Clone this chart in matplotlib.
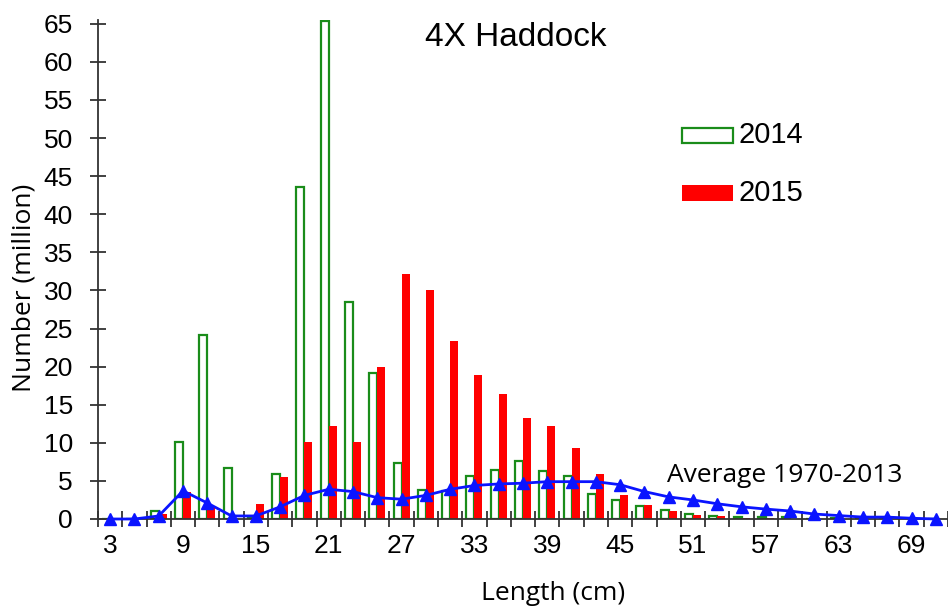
import matplotlib
matplotlib.use("Agg")
import matplotlib.pyplot as plt
from matplotlib.patches import Rectangle
import numpy as np

lengths = list(range(3, 72, 2))  # 3..71 cm
tick_labels = ["3", "9", "15", "21", "27", "33", "39", "45", "51", "57", "63", "69"]

y2014 = [0, 0, 1.0, 10.1, 24.1, 6.7, 0.1, 5.9, 43.6, 65.4, 28.5, 19.1, 7.4, 3.8, 3.7,
         5.7, 6.4, 7.6, 6.3, 5.7, 3.3, 2.5, 1.7, 1.15, 0.7, 0.35, 0.2, 0.2, 0.2, 0.0,
         0.1, 0.0, 0.0, 0.0, 0.0]
y2015 = [0, 0, 0.7, 3.6, 1.7, 0.0, 2.0, 5.5, 10.1, 12.2, 10.1, 20.0, 32.2, 30.1, 23.3,
         18.9, 16.4, 13.3, 12.2, 9.3, 5.9, 3.1, 1.9, 1.0, 0.5, 0.35, 0.1, 0.12, 0.05, 0.0,
         0.0, 0.0, 0.0, 0.0, 0.0]
avg = [0.0, 0.0, 0.4, 3.7, 2.1, 0.4, 0.4, 1.6, 3.1, 3.9, 3.6, 2.8, 2.6, 3.1, 3.9,
       4.4, 4.6, 4.7, 4.9, 4.9, 4.9, 4.5, 3.6, 2.9, 2.5, 2.0, 1.6, 1.3, 1.05, 0.65,
       0.45, 0.25, 0.25, 0.1, 0.0]

W, H = 948, 609
fig = plt.figure(figsize=(W / 100, H / 100), dpi=100)
ax_left, ax_right, ax_top, ax_bot = 98, 948, 20, 519
ax = fig.add_axes([ax_left / W, 1 - ax_bot / H, (ax_right - ax_left) / W, (ax_bot - ax_top) / H])

x = np.arange(len(lengths))
bw = 0.33
green = "#1a8c1a"
red = "#ff0000"
blue = "#0a14ff"

ax.bar(x - bw, y2014, width=bw, align="edge", facecolor="white", edgecolor=green,
       linewidth=1.6, zorder=2)
ax.bar(x, y2015, width=bw, align="edge", facecolor=red, edgecolor="none", zorder=2)
ax.plot(x, avg, color=blue, linewidth=2.0, marker="^", markersize=8,
        markerfacecolor=blue, markeredgecolor=blue, zorder=4, clip_on=False)

ax.set_xlim(-0.5, (948 - 110.5) / 24.5)
ax.set_ylim(0, 65.5)

for s in ["top", "right"]:
    ax.spines[s].set_visible(False)
for s in ["left", "bottom"]:
    ax.spines[s].set_color("#333333")
    ax.spines[s].set_linewidth(1.3)

tick_font = "Liberation Sans"
ax.set_yticks(np.arange(0, 66, 5))
ax.set_yticklabels([str(v) for v in range(0, 66, 5)], fontsize=19, family=tick_font)
ax.tick_params(axis="y", direction="inout", length=12, width=1.3, color="#333333", pad=12)

label_pos = [lengths.index(int(t)) for t in tick_labels]
ax.set_xticks(label_pos)
ax.set_xticklabels(tick_labels, fontsize=19, family=tick_font)
ax.tick_params(axis="x", which="major", length=0, pad=11)
ax.set_xticks(np.arange(-0.5, len(lengths), 1.0), minor=True)
ax.tick_params(axis="x", which="minor", direction="inout", length=12, width=1.3, color="#333333")

lab_font = "Open Sans"
fig.text(553 / W, 1 - 593 / H, "Length (cm)", fontsize=19, family=lab_font,
         ha="center", va="center")
fig.text(24 / W, 1 - 288 / H, "Number (million)", fontsize=19, family=lab_font,
         ha="center", va="center", rotation=90)

fig.text(516 / W, 1 - 37 / H, "4X Haddock", fontsize=24, family=tick_font,
         ha="center", va="center")
fig.text(785 / W, 1 - 475 / H, "Average 1970-2013", fontsize=19, family=lab_font,
         ha="center", va="center")

# legend
fig.patches.append(Rectangle((682 / W, 1 - 143 / H), 51 / W, 15 / H, transform=fig.transFigure,
                             facecolor="white", edgecolor=green, linewidth=1.6))
fig.patches.append(Rectangle((682 / W, 1 - 201 / H), 51 / W, 16 / H, transform=fig.transFigure,
                             facecolor=red, edgecolor="none"))
fig.text(738 / W, 1 - 135 / H, "2014", fontsize=21, family=tick_font, ha="left", va="center")
fig.text(738 / W, 1 - 193 / H, "2015", fontsize=21, family=tick_font, ha="left", va="center")

fig.savefig("out.png", dpi=100)
